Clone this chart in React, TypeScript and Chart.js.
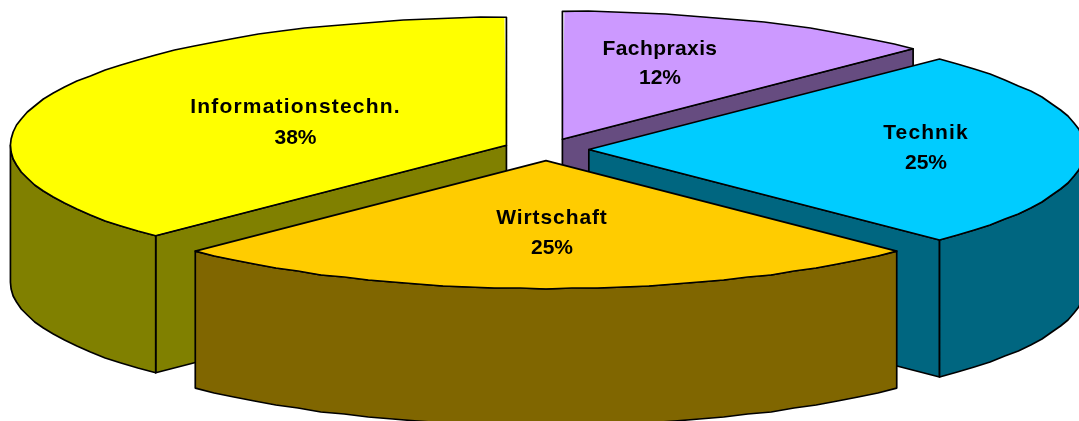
import React, { useEffect, useRef } from "react";
import { Chart, registerables } from "chart.js";

Chart.register(...registerables);

const categories = ["Fachpraxis", "Technik", "Wirtschaft", "Informationstechn."];
const shares = [12.5, 25, 25, 37.5];
const shareLabels = ["12%", "25%", "25%", "38%"];
const topColors = ["#CC99FF", "#00CCFF", "#FFCC00", "#FFFF00"];
const sideColors = ["#664C80", "#006680", "#806600", "#808000"];

// layout of the tilted pie
const CENTER_X = 546;
const CENTER_Y = 149.5;
const RADIUS_X = 496;
const RADIUS_Y = 128;
const DEPTH = 137;
const SLICE_OFFSET = 62;
const LINE = "#000000";
const LINE_WIDTH = 1.7;
const FONT = 'bold 21px "Liberation Sans", Arial, sans-serif';
const SIDE_DRAW_ORDER = [0, 3, 1, 2]; // back to front
const labelBoxes = [
  { x: 660, y: 49, y2: 78, spacing: 0.4 },
  { x: 926, y: 133, y2: 163, spacing: 1.1 },
  { x: 552, y: 218, y2: 248, spacing: 0.9 },
  { x: 295.5, y: 107, y2: 138, spacing: 1.2 },
];

type P = [number, number];

// Chart.js grows an offset arc by offset/4 * (1 - sin(circumference))
const growth = (arc: any) => {
  const circ = arc.endAngle - arc.startAngle;
  return ((arc.options.offset || 0) / 4) * (1 - Math.sin(Math.min(Math.PI, circ)));
};

function geometry(arc: any) {
  const inset = (arc.options.offset || 0) / 4;
  const r = arc.outerRadius + growth(arc);
  const sx = RADIUS_X / r;
  const sy = RADIUS_Y / r;
  const mid = (arc.startAngle + arc.endAngle) / 2;
  const ax = CENTER_X + Math.cos(mid) * inset * sx;
  const ay = CENTER_Y + Math.sin(mid) * inset * sy;
  const at = (ang: number): P => [ax + Math.cos(ang) * RADIUS_X, ay + Math.sin(ang) * RADIUS_Y];
  return { r, sx, sy, apex: [ax, ay] as P, at, start: arc.startAngle, end: arc.endAngle };
}

// the outline of the reference is slightly uneven: a coarse polyline snapped to whole pixels
function rimPoints(at: (a: number) => P, a0: number, a1: number): P[] {
  const step = (3 * Math.PI) / 180;
  const n = Math.max(1, Math.round((a1 - a0) / step));
  const pts: P[] = [];
  for (let i = 0; i <= n; i++) {
    const p = at(a0 + ((a1 - a0) * i) / n);
    pts.push(i === 0 || i === n ? p : [p[0], Math.round(p[1])]);
  }
  return pts;
}

function trace(ctx: CanvasRenderingContext2D, pts: P[], close = true) {
  ctx.beginPath();
  pts.forEach((p, i) => (i ? ctx.lineTo(p[0], p[1]) : ctx.moveTo(p[0], p[1])));
  if (close) ctx.closePath();
}

const down = (p: P): P => [p[0], p[1] + DEPTH];

const pie3d = {
  id: "pie3d",
  afterDatasetsUpdate(chart: any) {
    // every slice gets one common drawn radius
    chart.getDatasetMeta(0).data.forEach((arc: any) => {
      arc.outerRadius -= growth(arc);
    });
  },
  beforeDatasetsDraw(chart: any) {
    const { ctx } = chart;
    const arcs = chart.getDatasetMeta(0).data;
    ctx.lineWidth = LINE_WIDTH;
    ctx.lineJoin = "round";
    ctx.strokeStyle = LINE;
    SIDE_DRAW_ORDER.forEach((i) => {
      const g = geometry(arcs[i]);
      ctx.fillStyle = sideColors[i];
      const faces: P[][] = [];
      if (-Math.cos(g.start) > 1e-6) {
        const e = g.at(g.start);
        faces.push([g.apex, e, down(e), down(g.apex)]);
      }
      if (Math.cos(g.end) > 1e-6) {
        const e = g.at(g.end);
        faces.push([g.apex, e, down(e), down(g.apex)]);
      }
      const a0 = Math.max(g.start, 0);
      const a1 = Math.min(g.end, Math.PI);
      if (a1 > a0) {
        const rim = rimPoints(g.at, a0, a1);
        faces.push([...rim, ...rim.slice().reverse().map(down)]);
      }
      faces.forEach((f) => {
        trace(ctx, f);
        ctx.fill();
        ctx.stroke();
      });
    });
    const first = geometry(arcs[0]);
    ctx.save();
    ctx.translate(CENTER_X, CENTER_Y);
    ctx.scale(first.sx, first.sy);
    ctx.translate(-arcs[0].x, -arcs[0].y);
  },
  afterDatasetsDraw(chart: any) {
    const { ctx } = chart;
    ctx.restore();
    const arcs = chart.getDatasetMeta(0).data;
    ctx.lineWidth = LINE_WIDTH;
    ctx.lineJoin = "round";
    ctx.strokeStyle = LINE;
    arcs.forEach((arc: any) => {
      const g = geometry(arc);
      trace(ctx, [g.apex, ...rimPoints(g.at, g.start, g.end)]);
      ctx.stroke();
    });
    ctx.fillStyle = "#000000";
    ctx.textAlign = "center";
    ctx.textBaseline = "middle";
    ctx.font = FONT;
    categories.forEach((name, i) => {
      const b = labelBoxes[i];
      (ctx as any).letterSpacing = `${b.spacing}px`;
      ctx.fillText(name, b.x, b.y);
      (ctx as any).letterSpacing = "0px";
      ctx.fillText(shareLabels[i], b.x, b.y2);
    });
  },
};

export default function App() {
  const ref = useRef<HTMLCanvasElement>(null);
  useEffect(() => {
    document.body.style.margin = "0";
    const chart = new Chart(ref.current as HTMLCanvasElement, {
      type: "pie",
      data: {
        labels: categories,
        datasets: [
          {
            data: shares,
            backgroundColor: topColors,
            borderWidth: 0,
            offset: SLICE_OFFSET,
            clip: false,
          } as any,
        ],
      },
      options: {
        animation: false,
        responsive: false,
        events: [],
        layout: { padding: 0 },
        plugins: { legend: { display: false }, tooltip: { enabled: false } },
      },
      plugins: [pie3d],
    } as any);
    return () => chart.destroy();
  }, []);
  return (
    <canvas
      ref={ref}
      width={1079}
      height={421}
      style={{ position: "fixed", left: 0, top: 0, width: 1079, height: 421, display: "block" }}
    />
  );
}
